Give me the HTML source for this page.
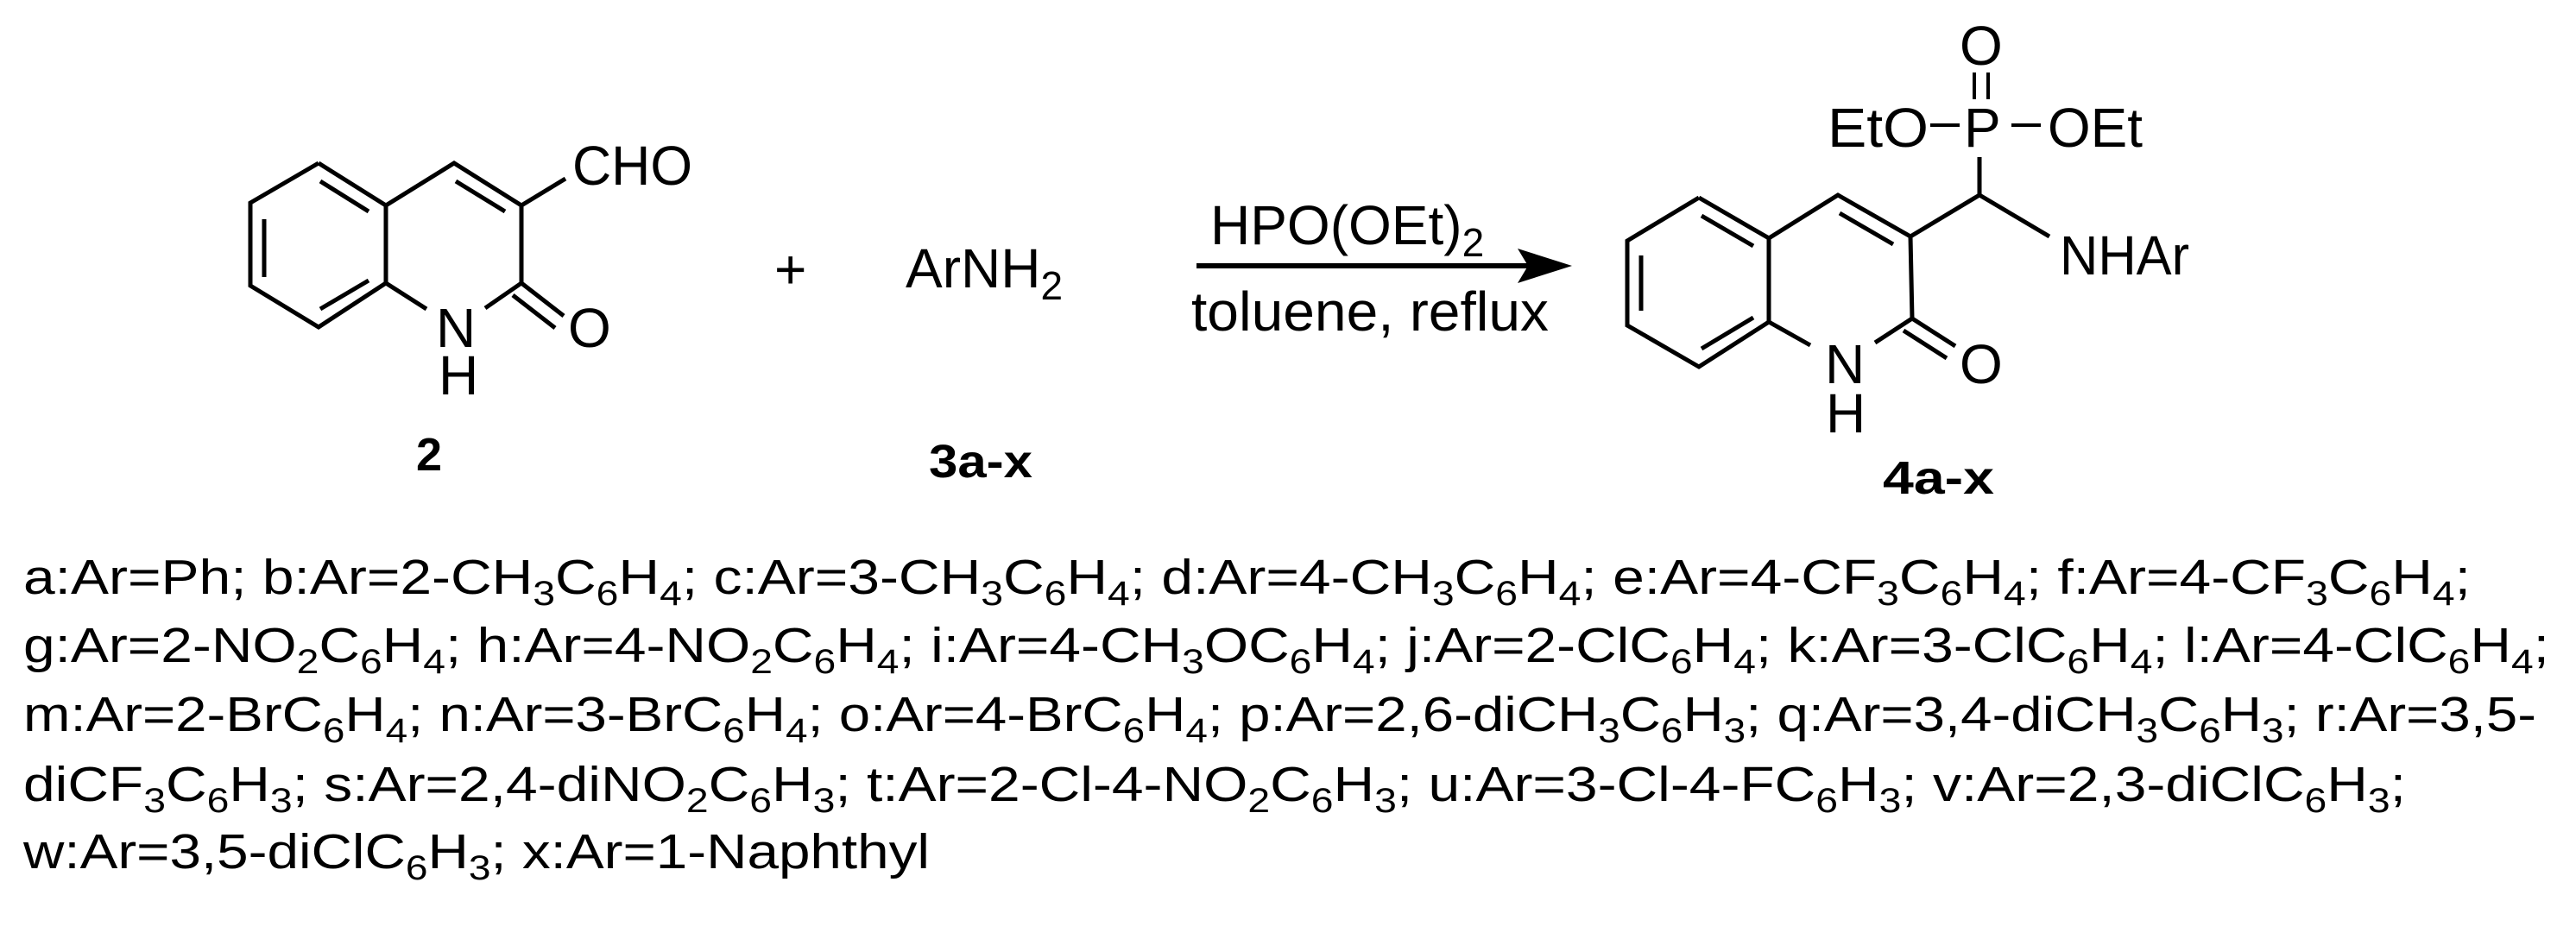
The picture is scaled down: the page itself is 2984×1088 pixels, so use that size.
<!DOCTYPE html>
<html><head><meta charset="utf-8"><style>
html,body{margin:0;padding:0;background:#fff}
svg{display:block}
text{font-family:"Liberation Sans",Arial,sans-serif;fill:#000}
</style></head><body>
<svg width="2984" height="1088" viewBox="0 0 2984 1088" xmlns="http://www.w3.org/2000/svg">
<g stroke="#000" stroke-width="5" fill="none" stroke-linecap="butt">
<!-- compound 2 -->
<polyline points="369,189 447,238 447,328 369,379 290,331 290,235 369,189"/>
<line x1="306" y1="254" x2="306" y2="321"/>
<line x1="371" y1="210" x2="427" y2="245"/>
<line x1="371" y1="358" x2="427" y2="325"/>
<polyline points="447,238 526,189 604,238 604,328 562,357"/>
<line x1="447" y1="328" x2="494" y2="358"/>
<line x1="528" y1="210" x2="585" y2="245"/>
<line x1="604" y1="238" x2="655" y2="207"/>
<line x1="604" y1="328" x2="653" y2="366"/>
<line x1="594" y1="342" x2="643" y2="380"/>
<!-- arrow -->
<line x1="1386" y1="308" x2="1770" y2="308" stroke-width="6"/>
<!-- product -->
<polyline points="1968,229 2049,276 2049,373 1968,425 1885,377 1885,279 1968,229"/>
<line x1="1901" y1="296" x2="1901" y2="360"/>
<line x1="1971" y1="250" x2="2031" y2="285"/>
<line x1="1971" y1="404" x2="2031" y2="368"/>
<polyline points="2049,276 2129,226 2213,274 2215,369 2172,397"/>
<line x1="2049" y1="373" x2="2097" y2="400"/>
<line x1="2131" y1="247" x2="2193" y2="283"/>
<line x1="2213" y1="274" x2="2293" y2="226"/>
<line x1="2293" y1="226" x2="2293" y2="182"/>
<line x1="2293" y1="226" x2="2374" y2="274"/>
<line x1="2215" y1="369" x2="2265" y2="401"/>
<line x1="2205" y1="383" x2="2255" y2="415"/>
<line x1="2287" y1="84" x2="2287" y2="115" stroke-width="4"/>
<line x1="2303" y1="84" x2="2303" y2="115" stroke-width="4"/>
<line x1="2236" y1="145" x2="2270" y2="145" stroke-width="4"/>
<line x1="2330" y1="145" x2="2364" y2="145" stroke-width="4"/>
</g>
<polygon points="1821,308 1758,288 1770,308 1758,328" fill="#000"/>

<g font-size="64">
<text x="663" y="214" textLength="139" lengthAdjust="spacingAndGlyphs">CHO</text>
<text x="658" y="402">O</text>
<text x="505" y="402">N</text>
<text x="508" y="457">H</text>
<text x="897" y="334">+</text>
<text x="1049" y="333">ArNH<tspan font-size="46" dy="14">2</tspan></text>
<text x="1402" y="283">HPO(OEt)<tspan font-size="46" dy="14">2</tspan></text>
<text x="1380" y="383" textLength="414" lengthAdjust="spacingAndGlyphs">toluene, reflux</text>
<text x="2270" y="75">O</text>
<text x="2117" y="170" textLength="117" lengthAdjust="spacingAndGlyphs">EtO</text>
<text x="2275" y="170">P</text>
<text x="2372" y="170" textLength="110" lengthAdjust="spacingAndGlyphs">OEt</text>
<text x="2386" y="318" textLength="150" lengthAdjust="spacingAndGlyphs">NHAr</text>
<text x="2114" y="444">N</text>
<text x="2115" y="501">H</text>
<text x="2270" y="444">O</text>
</g>
<g font-size="54" font-weight="bold">
<text x="482" y="545">2</text>
<text x="1076" y="553" textLength="120" lengthAdjust="spacingAndGlyphs">3a-x</text>
<text x="2181" y="572" textLength="129" lengthAdjust="spacingAndGlyphs">4a-x</text>
</g>

<g font-size="57">
<text x="27" y="688" textLength="2835" lengthAdjust="spacingAndGlyphs">a:Ar=Ph; b:Ar=2-CH<tspan font-size="40" dy="13">3</tspan><tspan dy="-13">C</tspan><tspan font-size="40" dy="13">6</tspan><tspan dy="-13">H</tspan><tspan font-size="40" dy="13">4</tspan><tspan dy="-13">; c:Ar=3-CH</tspan><tspan font-size="40" dy="13">3</tspan><tspan dy="-13">C</tspan><tspan font-size="40" dy="13">6</tspan><tspan dy="-13">H</tspan><tspan font-size="40" dy="13">4</tspan><tspan dy="-13">; d:Ar=4-CH</tspan><tspan font-size="40" dy="13">3</tspan><tspan dy="-13">C</tspan><tspan font-size="40" dy="13">6</tspan><tspan dy="-13">H</tspan><tspan font-size="40" dy="13">4</tspan><tspan dy="-13">; e:Ar=4-CF</tspan><tspan font-size="40" dy="13">3</tspan><tspan dy="-13">C</tspan><tspan font-size="40" dy="13">6</tspan><tspan dy="-13">H</tspan><tspan font-size="40" dy="13">4</tspan><tspan dy="-13">; f:Ar=4-CF</tspan><tspan font-size="40" dy="13">3</tspan><tspan dy="-13">C</tspan><tspan font-size="40" dy="13">6</tspan><tspan dy="-13">H</tspan><tspan font-size="40" dy="13">4</tspan><tspan dy="-13">;</tspan></text>
<text x="27" y="767" textLength="2926" lengthAdjust="spacingAndGlyphs">g:Ar=2-NO<tspan font-size="40" dy="13">2</tspan><tspan dy="-13">C</tspan><tspan font-size="40" dy="13">6</tspan><tspan dy="-13">H</tspan><tspan font-size="40" dy="13">4</tspan><tspan dy="-13">; h:Ar=4-NO</tspan><tspan font-size="40" dy="13">2</tspan><tspan dy="-13">C</tspan><tspan font-size="40" dy="13">6</tspan><tspan dy="-13">H</tspan><tspan font-size="40" dy="13">4</tspan><tspan dy="-13">; i:Ar=4-CH</tspan><tspan font-size="40" dy="13">3</tspan><tspan dy="-13">OC</tspan><tspan font-size="40" dy="13">6</tspan><tspan dy="-13">H</tspan><tspan font-size="40" dy="13">4</tspan><tspan dy="-13">; j:Ar=2-ClC</tspan><tspan font-size="40" dy="13">6</tspan><tspan dy="-13">H</tspan><tspan font-size="40" dy="13">4</tspan><tspan dy="-13">; k:Ar=3-ClC</tspan><tspan font-size="40" dy="13">6</tspan><tspan dy="-13">H</tspan><tspan font-size="40" dy="13">4</tspan><tspan dy="-13">; l:Ar=4-ClC</tspan><tspan font-size="40" dy="13">6</tspan><tspan dy="-13">H</tspan><tspan font-size="40" dy="13">4</tspan><tspan dy="-13">;</tspan></text>
<text x="27" y="847" textLength="2911" lengthAdjust="spacingAndGlyphs">m:Ar=2-BrC<tspan font-size="40" dy="13">6</tspan><tspan dy="-13">H</tspan><tspan font-size="40" dy="13">4</tspan><tspan dy="-13">; n:Ar=3-BrC</tspan><tspan font-size="40" dy="13">6</tspan><tspan dy="-13">H</tspan><tspan font-size="40" dy="13">4</tspan><tspan dy="-13">; o:Ar=4-BrC</tspan><tspan font-size="40" dy="13">6</tspan><tspan dy="-13">H</tspan><tspan font-size="40" dy="13">4</tspan><tspan dy="-13">; p:Ar=2,6-diCH</tspan><tspan font-size="40" dy="13">3</tspan><tspan dy="-13">C</tspan><tspan font-size="40" dy="13">6</tspan><tspan dy="-13">H</tspan><tspan font-size="40" dy="13">3</tspan><tspan dy="-13">; q:Ar=3,4-diCH</tspan><tspan font-size="40" dy="13">3</tspan><tspan dy="-13">C</tspan><tspan font-size="40" dy="13">6</tspan><tspan dy="-13">H</tspan><tspan font-size="40" dy="13">3</tspan><tspan dy="-13">; r:Ar=3,5-</tspan></text>
<text x="27" y="928" textLength="2760" lengthAdjust="spacingAndGlyphs">diCF<tspan font-size="40" dy="13">3</tspan><tspan dy="-13">C</tspan><tspan font-size="40" dy="13">6</tspan><tspan dy="-13">H</tspan><tspan font-size="40" dy="13">3</tspan><tspan dy="-13">; s:Ar=2,4-diNO</tspan><tspan font-size="40" dy="13">2</tspan><tspan dy="-13">C</tspan><tspan font-size="40" dy="13">6</tspan><tspan dy="-13">H</tspan><tspan font-size="40" dy="13">3</tspan><tspan dy="-13">; t:Ar=2-Cl-4-NO</tspan><tspan font-size="40" dy="13">2</tspan><tspan dy="-13">C</tspan><tspan font-size="40" dy="13">6</tspan><tspan dy="-13">H</tspan><tspan font-size="40" dy="13">3</tspan><tspan dy="-13">; u:Ar=3-Cl-4-FC</tspan><tspan font-size="40" dy="13">6</tspan><tspan dy="-13">H</tspan><tspan font-size="40" dy="13">3</tspan><tspan dy="-13">; v:Ar=2,3-diClC</tspan><tspan font-size="40" dy="13">6</tspan><tspan dy="-13">H</tspan><tspan font-size="40" dy="13">3</tspan><tspan dy="-13">;</tspan></text>
<text x="27" y="1006" textLength="1050" lengthAdjust="spacingAndGlyphs">w:Ar=3,5-diClC<tspan font-size="40" dy="13">6</tspan><tspan dy="-13">H</tspan><tspan font-size="40" dy="13">3</tspan><tspan dy="-13">; x:Ar=1-Naphthyl</tspan></text>
</g>
</svg>
</body></html>
